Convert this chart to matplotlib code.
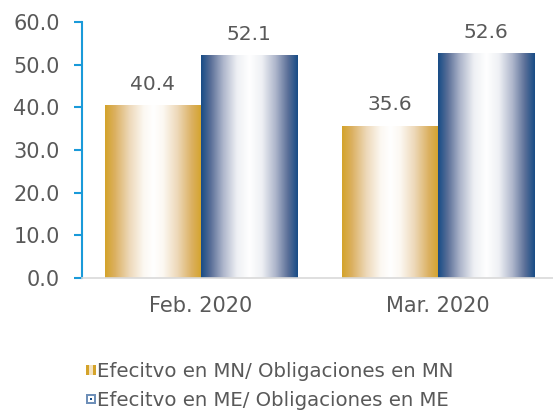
import numpy as np
import matplotlib
matplotlib.use("Agg")
import matplotlib.pyplot as plt
from matplotlib.colors import LinearSegmentedColormap
from matplotlib.patches import Rectangle
from matplotlib.legend_handler import HandlerBase

categories = ["Feb. 2020", "Mar. 2020"]
series_names = ["Efecitvo en MN/ Obligaciones en MN", "Efecitvo en ME/ Obligaciones en ME"]
mn_values = [40.4, 35.6]
me_values = [52.1, 52.6]
yticks = [0, 10, 20, 30, 40, 50, 60]

gold = "#D4A32A"
blue = "#174C86"
text_color = "#595959"
axis_blue = "#1A9AD9"

gold_stops = [(0, gold), (0.1, "#DBB060"), (0.25, "#EDD8B8"), (0.4, "#FCF8F2"), (0.5, "#FFFFFF"),
              (0.6, "#FCF8F2"), (0.75, "#EDD8B8"), (0.9, "#DBB060"), (1, gold)]
blue_stops = [(0, blue), (0.1, "#5A6F98"), (0.23, "#AEB6CB"), (0.37, "#EEF0F4"), (0.5, "#FFFFFF"),
              (0.63, "#EEF0F4"), (0.77, "#AEB6CB"), (0.9, "#5A6F98"), (1, blue)]
cmap_gold = LinearSegmentedColormap.from_list("g", gold_stops)
cmap_blue = LinearSegmentedColormap.from_list("b", blue_stops)

plt.rcParams['font.family'] = ['DejaVu Sans']
fig = plt.figure(figsize=(5.53, 4.11), dpi=100)
ax = fig.add_axes([82/553, 1 - 278/411, (553 - 82)/553, (278 - 22)/411])

x = np.arange(len(categories))
w = 0.405
bars_mn = ax.bar(x - w/2, mn_values, w, color="none", edgecolor="none")
bars_me = ax.bar(x + w/2, me_values, w, color="none", edgecolor="none")

grad = np.linspace(0, 1, 256).reshape(1, -1)
for bars, cmap, vals in [(bars_mn, cmap_gold, mn_values), (bars_me, cmap_blue, me_values)]:
    for b, v in zip(bars, vals):
        x0, y0 = b.get_x(), b.get_y()
        ax.imshow(grad, cmap=cmap, aspect="auto", interpolation="bicubic",
                  extent=(x0, x0 + b.get_width(), y0, y0 + b.get_height()), zorder=2)
        ax.text(x0 + b.get_width()/2, v + 3.7, f"{v:.1f}", ha="center", va="baseline",
                fontsize=14.5, color=text_color)

ax.set_xlim(-0.502, 1.485)
ax.set_ylim(0, 60)
ax.set_yticks(yticks)
ax.set_yticklabels([f"{t:.1f}" for t in yticks])
ax.set_xticks(x)
ax.set_xticklabels(categories)
ax.tick_params(axis="y", direction="out", length=6, width=1.5, color=axis_blue,
               labelsize=15, labelcolor=text_color, pad=10)
ax.tick_params(axis="x", length=0, labelsize=15, labelcolor=text_color, pad=13)
for s in ["top", "right"]:
    ax.spines[s].set_visible(False)
ax.spines["left"].set_color(axis_blue)
ax.spines["left"].set_linewidth(1.5)
ax.spines["bottom"].set_color("#D9D9D9")
ax.spines["bottom"].set_linewidth(1.2)


class MNHandler(HandlerBase):
    def create_artists(self, legend, orig, xd, yd, width, height, fontsize, trans):
        s = height * 0.7
        x0 = xd + width - s
        y0 = yd + (height - s) / 2
        arts = []
        cols = [gold, "#F4E2C0", gold]
        for i, c in enumerate(cols):
            r = Rectangle((x0 + i * s / 3, y0), s / 3, s, facecolor=c, edgecolor="none", transform=trans)
            arts.append(r)
        return arts


class MEHandler(HandlerBase):
    def create_artists(self, legend, orig, xd, yd, width, height, fontsize, trans):
        s = height * 0.7
        x0 = xd + width - s
        y0 = yd + (height - s) / 2
        r1 = Rectangle((x0, y0), s, s, facecolor="#6E8FB8", edgecolor="none", transform=trans)
        r2 = Rectangle((x0 + s * 0.15, y0 + s * 0.15), s * 0.7, s * 0.7, facecolor="#FFFFFF",
                       edgecolor="none", transform=trans)
        r3 = Rectangle((x0 + s * 0.35, y0 + s * 0.35), s * 0.3, s * 0.3, facecolor=blue,
                       edgecolor="none", transform=trans)
        return [r1, r2, r3]


h1 = Rectangle((0, 0), 1, 1)
h2 = Rectangle((0, 0), 1, 1)
leg = fig.legend([h1, h2], series_names, loc="upper left", bbox_to_anchor=(85/553, 1 - 362/411),
                 frameon=False, fontsize=14.2, labelcolor=text_color,
                 handler_map={h1: MNHandler(), h2: MEHandler()},
                 handlelength=0.55, handletextpad=0.05, labelspacing=0.5, borderpad=0, borderaxespad=0)

fig.savefig("out.png", dpi=100)
